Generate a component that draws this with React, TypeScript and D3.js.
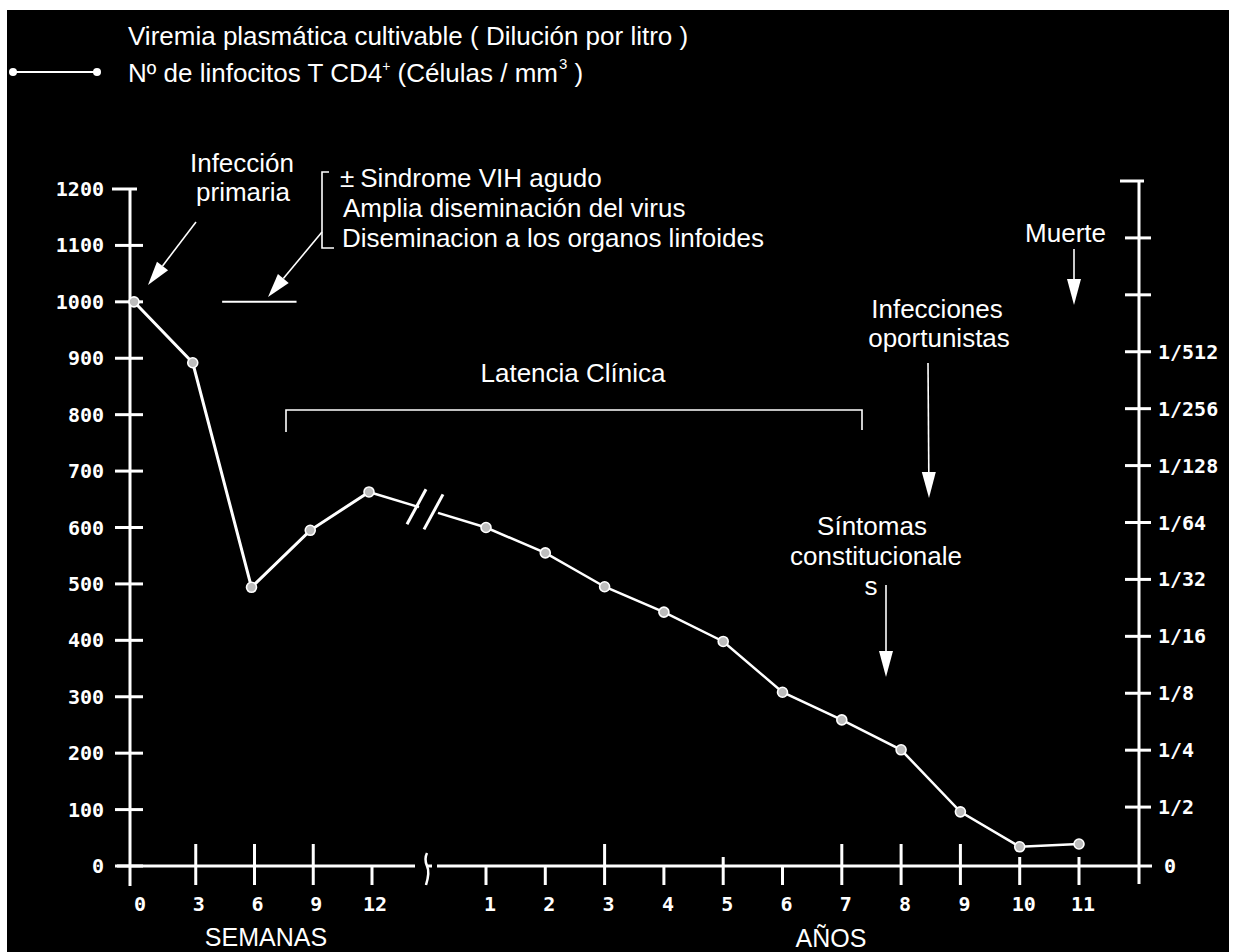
import React from "react";
import * as d3 from "d3";

// ---------- data ----------
const weeks = [0, 3, 6, 9, 12];
const cd4Weeks = [1000, 892, 494, 595, 663];
const years = [1, 2, 3, 4, 5, 6, 7, 8, 9, 10, 11];
const cd4Years = [600, 555, 495, 450, 398, 308, 259, 206, 96, 34, 39];
const leftTicks = [0, 100, 200, 300, 400, 500, 600, 700, 800, 900, 1000, 1100, 1200];
const rightTickLabels = ["0", "1/2", "1/4", "1/8", "1/16", "1/32", "1/64", "1/128", "1/256", "1/512", "", ""];
const weekTickLabels = ["0", "3", "6", "9", "12"];
const yearTickLabels = ["1", "2", "3", "4", "5", "6", "7", "8", "9", "10", "11"];
const viremiaWeeks = [4.5, 8.3];
const viremiaLevel = [1000, 1000];

const W = 1237;
const H = 952;
const FG = "#ffffff";
const SANS = "'Liberation Sans', Arial, Helvetica, sans-serif";
const NUM = "'DejaVu Sans Mono', monospace";

const xW = d3.scaleLinear().domain([0, 12]).range([134, 369]);
const xY = d3.scaleLinear().domain([1, 11]).range([486, 1079]);
const y = d3.scaleLinear().domain([0, 1200]).range([866, 189]);
const yR = d3.scaleLinear().domain([0, 12]).range([864, 181]);

const AXIS_X = 130;
const RAXIS_X = 1139;
const Y0 = y(0);

const weekFull = new Set([3, 6, 9]);
const yearFull = new Set([3, 7, 8, 9]);
const yearShort = new Set([5, 10, 11]);

function Arrow({ x1, y1, x2, y2, len = 24, w = 14, sw = 1.6 }: any) {
  const dx = x2 - x1, dy = y2 - y1;
  const L = Math.hypot(dx, dy);
  const ux = dx / L, uy = dy / L;
  const bx = x2 - ux * len, by = y2 - uy * len;
  const px = -uy * (w / 2), py = ux * (w / 2);
  const pts = `${x2},${y2} ${bx + px},${by + py} ${bx - px},${by - py}`;
  return (
    <g>
      <line x1={x1} y1={y1} x2={bx} y2={by} stroke={FG} strokeWidth={sw} />
      <polygon points={pts} fill={FG} />
    </g>
  );
}

export default function App() {
  const lineGen = d3.line<[number, number]>().x((d) => d[0]).y((d) => d[1]);
  const wPts: [number, number][] = weeks.map((w, i) => [xW(w), y(cd4Weeks[i])]);
  const yPts: [number, number][] = years.map((t, i) => [xY(t), y(cd4Years[i])]);

  // connecting segment across the axis break
  const pA = wPts[wPts.length - 1];
  const pB = yPts[0];
  const at = (x: number): [number, number] => {
    const t = (x - pA[0]) / (pB[0] - pA[0]);
    return [x, pA[1] + t * (pB[1] - pA[1])];
  };
  const gapL = at(419);
  const gapR = at(438);
  const s1 = at(416);
  const s2 = at(433);

  const tickLabelStyle = { fontFamily: NUM, fontWeight: 700, fontSize: 20, fill: FG } as any;

  return (
    <svg width={W} height={H} style={{ position: "absolute", left: 0, top: 0, background: "#fff" }}>
      <rect x={7} y={10} width={1222} height={H - 10} fill="#000" />

      {/* legend */}
      <g fontFamily={SANS} fill={FG} fontSize={26} style={{ whiteSpace: "pre" }}>
        <text x={128} y={45}>Viremia plasmática cultivable ( Dilución por litro )</text>
        <text x={128} y={82}>
          Nº de linfocitos T CD4<tspan dy={-11} fontSize={14}>+</tspan>
          <tspan dy={11}>  (Células / mm</tspan>
          <tspan dy={-13} dx={1} fontSize={15}>3</tspan>
          <tspan dy={13}> )</tspan>
        </text>
      </g>
      <line x1={13} y1={72} x2={97} y2={72} stroke={FG} strokeWidth={2} />
      <circle cx={13} cy={72} r={4} fill={FG} />
      <circle cx={97} cy={72} r={4} fill={FG} />

      {/* left axis */}
      <line x1={AXIS_X} y1={y(1200)} x2={AXIS_X} y2={Y0 + 20} stroke={FG} strokeWidth={3} />
      {leftTicks.map((v) => (
        <g key={"lt" + v}>
          <line x1={v === 1200 ? 112 : 115} x2={v === 1200 ? 137 : 143} y1={y(v)} y2={y(v)} stroke={FG} strokeWidth={3} />
          <text x={104} y={y(v) + 7} textAnchor="end" {...tickLabelStyle}>{v}</text>
        </g>
      ))}

      {/* right axis */}
      <line x1={RAXIS_X} y1={yR(12)} x2={RAXIS_X} y2={Y0 + 18} stroke={FG} strokeWidth={3} />
      <line x1={1120} x2={1144} y1={yR(12)} y2={yR(12)} stroke={FG} strokeWidth={3} />
      {rightTickLabels.map((lab, i) => (
        <g key={"rt" + i}>
          {i > 0 && <line x1={1125} x2={1151} y1={yR(i)} y2={yR(i)} stroke={FG} strokeWidth={3} />}
          <text x={i === 0 ? 1164 : 1158} y={(i === 0 ? Y0 : yR(i)) + 7} {...tickLabelStyle}>{lab}</text>
        </g>
      ))}

      {/* x axis */}
      <line x1={117} x2={415} y1={Y0} y2={Y0} stroke={FG} strokeWidth={3} />
      <line x1={437} x2={1152} y1={Y0} y2={Y0} stroke={FG} strokeWidth={3} />
      <path d={`M427,${Y0 - 13} q-3,6 0,13 q3,6 -1,19`} stroke={FG} strokeWidth={2.5} fill="none" />
      <line x1={427} x2={432} y1={Y0} y2={Y0} stroke={FG} strokeWidth={3} />
      {weeks.map((w) => {
        if (w === 0) return null;
        const full = weekFull.has(w);
        return (
          <line key={"wt" + w} x1={xW(w) + 3} x2={xW(w) + 3} y1={full ? Y0 - 22 : Y0} y2={Y0 + 19} stroke={FG} strokeWidth={3} />
        );
      })}
      {weeks.map((w, i) => (
        <text key={"wl" + w} x={w === 0 ? 140 : xW(w) + 6} y={911} textAnchor="middle" {...tickLabelStyle}>
          {weekTickLabels[i]}
        </text>
      ))}
      {years.map((t, i) => {
        const top = yearFull.has(t) ? Y0 - 22 : yearShort.has(t) ? Y0 - 9 : Y0;
        return (
          <g key={"yt" + t}>
            <line x1={xY(t)} x2={xY(t)} y1={top} y2={Y0 + 19} stroke={FG} strokeWidth={3} />
            <text x={xY(t) + 4} y={911} textAnchor="middle" {...tickLabelStyle}>{yearTickLabels[i]}</text>
          </g>
        );
      })}
      <text x={266} y={946} textAnchor="middle" fontFamily={SANS} fontSize={25} fill={FG}>SEMANAS</text>
      <text x={831} y={947} textAnchor="middle" fontFamily={SANS} fontSize={25} fill={FG}>AÑOS</text>

      {/* viremia segment */}
      <line
        x1={xW(viremiaWeeks[0])}
        x2={xW(viremiaWeeks[1])}
        y1={y(viremiaLevel[0])}
        y2={y(viremiaLevel[1])}
        stroke={FG}
        strokeWidth={2}
      />

      {/* CD4 line */}
      <path d={lineGen(wPts) || ""} stroke={FG} strokeWidth={3} fill="none" />
      <line x1={pA[0]} y1={pA[1]} x2={gapL[0]} y2={gapL[1]} stroke={FG} strokeWidth={2.5} />
      <line x1={gapR[0]} y1={gapR[1]} x2={pB[0]} y2={pB[1]} stroke={FG} strokeWidth={2.5} />
      <line x1={s1[0] - 9} y1={s1[1] + 18} x2={s1[0] + 10} y2={s1[1] - 17} stroke={FG} strokeWidth={3} />
      <line x1={s2[0] - 9} y1={s2[1] + 18} x2={s2[0] + 10} y2={s2[1] - 17} stroke={FG} strokeWidth={3} />
      <path d={lineGen(yPts) || ""} stroke={FG} strokeWidth={2.5} fill="none" />
      {wPts.concat(yPts).map((p, i) => (
        <circle key={"pt" + i} cx={p[0]} cy={p[1]} r={5} fill="#bdbdbd" stroke={FG} strokeWidth={1.6} />
      ))}

      {/* annotations */}
      <g fontFamily={SANS} fill={FG} fontSize={26}>
        <text x={242} y={172} textAnchor="middle">Infección</text>
        <text x={243} y={201} textAnchor="middle">primaria</text>

        <text x={340} y={187}>±<tspan dx={6}>Sindrome VIH agudo</tspan></text>
        <text x={343} y={217}>Amplia diseminación del virus</text>
        <text x={342} y={247}>Diseminacion a los organos linfoides</text>

        <text x={573} y={382} textAnchor="middle">Latencia Clínica</text>

        <text x={937} y={318} textAnchor="middle">Infecciones</text>
        <text x={939} y={347} textAnchor="middle">oportunistas</text>

        <text x={872} y={535} textAnchor="middle">Síntomas</text>
        <text x={876} y={565} textAnchor="middle">constitucionale</text>
        <text x={871} y={595} textAnchor="middle">s</text>

        <text x={1106} y={242} textAnchor="end">Muerte</text>
      </g>
      {/* bracket */}
      <path d="M329,172 H322 V248 H334" stroke={FG} strokeWidth={1.6} fill="none" />
      {/* latency bracket */}
      <path d="M286,432 V410 H862 V430" stroke={FG} strokeWidth={1.6} fill="none" />

      <Arrow x1={196} y1={222} x2={148} y2={285} />
      <Arrow x1={322} y1={232} x2={268} y2={297} />
      <Arrow x1={1074} y1={249} x2={1074} y2={305} len={26} />
      <Arrow x1={928} y1={363} x2={929} y2={498} len={26} />
      <Arrow x1={886} y1={585} x2={886} y2={677} len={26} />
    </svg>
  );
}
